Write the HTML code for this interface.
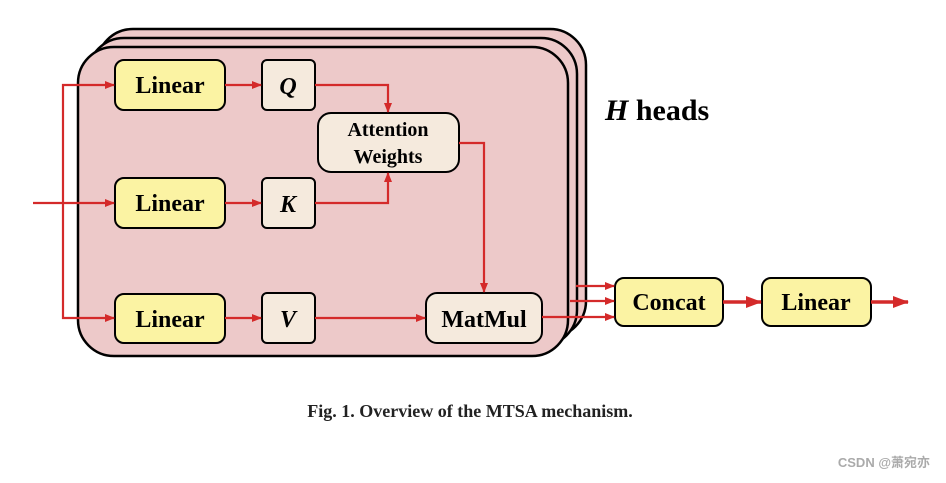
<!DOCTYPE html>
<html><head><meta charset="utf-8"><style>
body{margin:0;background:#fff;}
svg text{font-family:"Liberation Serif",serif;font-weight:bold;}
</style></head><body>
<svg width="946" height="478" viewBox="0 0 946 478" xmlns="http://www.w3.org/2000/svg">
<defs>
<marker id="a" markerWidth="10" markerHeight="8" refX="9" refY="4" orient="auto" markerUnits="userSpaceOnUse"><path d="M0,0 L10,4 L0,8 z" fill="#d42a2a"/></marker>
<marker id="b" markerWidth="16" markerHeight="12" refX="15" refY="6" orient="auto" markerUnits="userSpaceOnUse"><path d="M0,0 L16,6 L0,12 z" fill="#d42a2a"/></marker>
</defs>
<g stroke="#000" stroke-width="2.5" fill="#edc9c9">
<rect x="97" y="29" width="489" height="308" rx="36"/>
<rect x="88" y="38" width="489" height="308" rx="36"/>
<rect x="78" y="47" width="490" height="309" rx="36"/>
</g>
<g stroke="#000" stroke-width="2" fill="#fbf3a3">
<rect x="115" y="60" width="110" height="50" rx="9"/>
<rect x="115" y="178" width="110" height="50" rx="9"/>
<rect x="115" y="294" width="110" height="49" rx="9"/>
<rect x="615" y="278" width="108" height="48" rx="9"/>
<rect x="762" y="278" width="109" height="48" rx="9"/>
</g>
<g stroke="#000" stroke-width="2" fill="#f5eadd">
<rect x="262" y="60" width="53" height="50" rx="5"/>
<rect x="262" y="178" width="53" height="50" rx="5"/>
<rect x="262" y="293" width="53" height="50" rx="5"/>
<rect x="318" y="113" width="141" height="59" rx="13"/>
<rect x="426" y="293" width="116" height="50" rx="11"/>
</g>
<g stroke="#d42a2a" stroke-width="2.2" fill="none" marker-end="url(#a)">
<path d="M33 203 H114"/>
<path d="M63 203 V85 H114"/>
<path d="M63 203 V318 H114"/>
<path d="M225 85 H261"/>
<path d="M225 203 H261"/>
<path d="M225 318 H261"/>
<path d="M315 85 H388 V112"/>
<path d="M315 203 H388 V173"/>
<path d="M459 143 H484 V292"/>
<path d="M315 318 H425"/>
<path d="M576 286 H614"/>
<path d="M570 301 H614"/>
<path d="M542 317 H614"/>
</g>
<g stroke="#d42a2a" stroke-width="3.5" fill="none" marker-end="url(#b)">
<path d="M723 302 H761"/>
<path d="M871 302 H908"/>
</g>
<g font-size="24" text-anchor="middle" fill="#000">
<text x="170" y="93">Linear</text>
<text x="170" y="211">Linear</text>
<text x="170" y="327">Linear</text>
<text x="669" y="310">Concat</text>
<text x="816" y="310">Linear</text>
<text x="484" y="327">MatMul</text>
<text x="288" y="94" font-style="italic">Q</text>
<text x="288" y="212" font-style="italic">K</text>
<text x="288" y="327" font-style="italic">V</text>
<text x="388" y="136" font-size="20">Attention</text>
<text x="388" y="163" font-size="20">Weights</text>
</g>
<text x="605" y="120" font-size="30" fill="#000"><tspan font-style="italic">H</tspan> heads</text>
<text x="470" y="417" font-size="18" text-anchor="middle" font-weight="normal" fill="#222"><tspan font-weight="bold">Fig. 1.</tspan> Overview of the MTSA mechanism.</text>
<text x="930" y="467" font-size="13" text-anchor="end" font-weight="normal" fill="#aaa" style="font-family:'Liberation Sans','Noto Sans CJK SC',sans-serif">CSDN @萧宛亦</text>
</svg>
</body></html>
